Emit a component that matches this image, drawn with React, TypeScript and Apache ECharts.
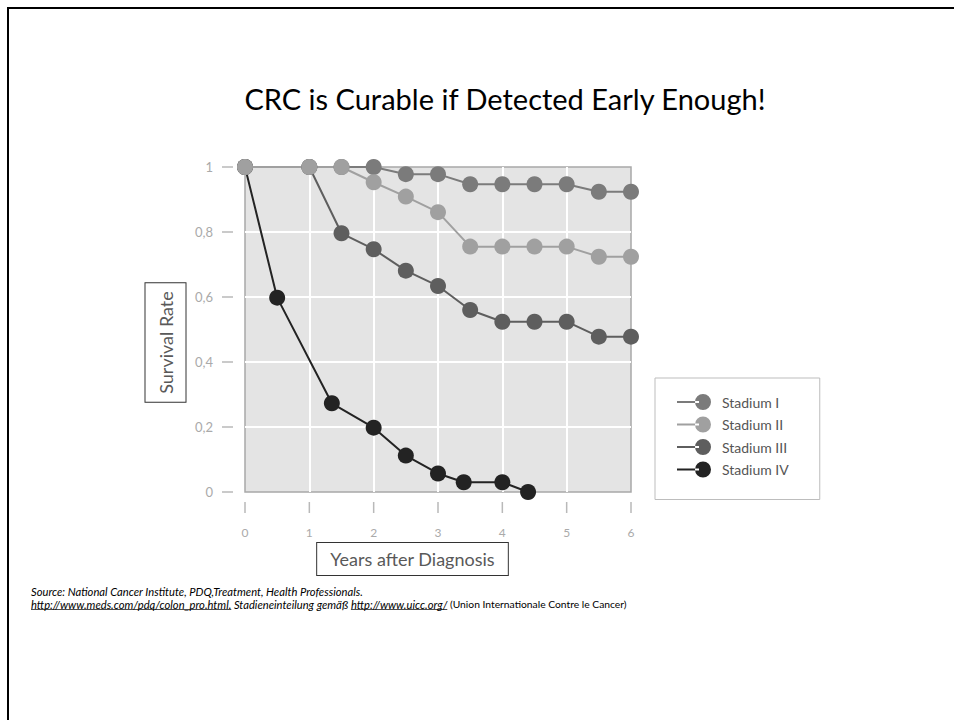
import React, { useEffect, useRef } from 'react';
import * as echarts from 'echarts';

const titleText = 'CRC is Curable if Detected Early Enough!';
const yAxisTitle = 'Survival Rate';
const xAxisTitle = 'Years after Diagnosis';
const sourceLine = 'Source: National Cancer Institute, PDQ,Treatment, Health Professionals.';
const link1 = 'http://www.meds.com/pdq/colon_pro.html.';
const midText = ' Stadieneinteilung gemäß ';
const link2 = 'http://www.uicc.org/';
const tailText = ' (Union Internationale Contre le Cancer)';

const seriesNames = ['Stadium I', 'Stadium II', 'Stadium III', 'Stadium IV'];
const seriesColors = ['#7b7b7b', '#a0a0a0', '#5e5e5e', '#232323'];

const xTicks: number[] = [0, 1, 2, 3, 4, 5, 6];
const yTicks: number[] = [0, 0.2, 0.4, 0.6, 0.8, 1];

const stadiumI: number[][] = [[0, 1], [1, 1], [1.5, 1], [2, 1], [2.5, 0.978], [3, 0.978], [3.5, 0.947], [4, 0.947], [4.5, 0.947], [5, 0.947], [5.5, 0.924], [6, 0.924]];
const stadiumII: number[][] = [[0, 1], [1, 1], [1.5, 1], [2, 0.953], [2.5, 0.909], [3, 0.861], [3.5, 0.755], [4, 0.755], [4.5, 0.755], [5, 0.755], [5.5, 0.724], [6, 0.724]];
const stadiumIII: number[][] = [[0, 1], [1, 1], [1.5, 0.796], [2, 0.747], [2.5, 0.681], [3, 0.634], [3.5, 0.56], [4, 0.524], [4.5, 0.524], [5, 0.524], [5.5, 0.478], [6, 0.478]];
const stadiumIV: number[][] = [[0, 1], [0.5, 0.598], [1.35, 0.273], [2, 0.198], [2.5, 0.112], [3, 0.057], [3.4, 0.03], [4, 0.03], [4.4, 0]];

const seriesData = [stadiumI, stadiumII, stadiumIII, stadiumIV];
const drawOrder = [3, 2, 0, 1];

function measure(text: string, font: string): number {
  const c = document.createElement('canvas');
  const ctx = c.getContext('2d');
  if (!ctx) return text.length * 5;
  ctx.font = font;
  return ctx.measureText(text).width;
}

export default function App() {
  const ref = useRef<HTMLDivElement>(null);
  useEffect(() => {
    if (!ref.current) return;
    const chart = echarts.init(ref.current, null, { renderer: 'svg' });
    const italicFont = 'italic 11.2px Lato';
    const normalFont = '10.3px Lato';
    const fx = 31;
    const fy1 = 591.5;
    const fy2 = 604;
    const w1 = measure(link1, italicFont);
    const wMid = measure(midText, italicFont);
    const w2 = measure(link2, italicFont);
    const l2start = fx + w1 + wMid;

    const tickColor = '#a8a8a8';
    const labelColor = '#aaaaaa';

    const option: any = {
      animation: false,
      grid: {
        left: 245, right: 323, top: 167, bottom: 228,
        show: true, backgroundColor: '#e4e4e4', borderColor: '#a8a8a8', borderWidth: 1.5,
      },
      xAxis: {
        type: 'value', min: 0, max: 6, interval: 1, offset: 10,
        axisLine: { show: false },
        axisTick: { show: false },
        axisLabel: { margin: 24, color: labelColor, fontSize: 12, fontFamily: 'Lato' },
        splitLine: { show: true, showMinLine: false, showMaxLine: false, lineStyle: { color: '#ffffff', width: 2 } },
      },
      yAxis: {
        type: 'value', min: 0, max: 1, interval: 0.2, offset: 12,
        axisLine: { show: false },
        axisTick: { show: false },
        axisLabel: {
          margin: 20, color: labelColor, fontSize: 13, fontFamily: 'Lato',
          formatter: (v: number) => (v === 0 || v === 1 ? String(v) : v.toFixed(1).replace('.', ',')),
        },
        splitLine: { show: true, showMinLine: false, showMaxLine: false, lineStyle: { color: '#ffffff', width: 2 } },
      },
      legend: {
        data: seriesNames,
        orient: 'vertical', left: 655, top: 378,
        backgroundColor: '#ffffff', borderColor: '#bdbdbd', borderWidth: 1,
        padding: [16, 31, 22, 22], itemGap: 6.5,
        itemWidth: 34, itemHeight: 16,
        icon: 'path://M0,7H22V9H0Z M18,8A8,8 0 1,0 34,8A8,8 0 1,0 18,8Z',
        textStyle: { color: '#555555', fontSize: 14, fontFamily: 'Lato', padding: [0, 0, 0, 6] },
      },
      series: [
        {
          name: 'xTickMarks', type: 'scatter', silent: true, clip: false, z: 1,
          data: xTicks.map((v) => [v, 0]),
          symbol: 'rect', symbolSize: [1.5, 11], symbolOffset: [0, 15.5],
          itemStyle: { color: tickColor },
          tooltip: { show: false },
        },
        {
          name: 'yTickMarks', type: 'scatter', silent: true, clip: false, z: 1,
          data: yTicks.map((v) => [0, v]),
          symbol: 'rect', symbolSize: [11, 1.5], symbolOffset: [-17.5, 0],
          itemStyle: { color: tickColor },
          tooltip: { show: false },
        },
        ...drawOrder.map((i) => ({
          name: seriesNames[i],
          type: 'line',
          data: seriesData[i],
          symbol: 'circle',
          symbolSize: 16,
          clip: false,
          z: 3,
          color: seriesColors[i],
          lineStyle: { color: seriesColors[i], width: 2 },
          itemStyle: { color: seriesColors[i] },
        })),
      ],
      graphic: [
        { type: 'rect', shape: { x: 8, y: 8, width: 1000, height: 800 }, style: { fill: 'none', stroke: '#000', lineWidth: 2 }, silent: true },
        { type: 'text', x: 505, y: 98, style: { text: titleText, fill: '#000', font: '29px Lato', textAlign: 'center', textVerticalAlign: 'middle' } },
        {
          type: 'text', x: 165.5, y: 342.5, rotation: Math.PI / 2,
          style: {
            text: yAxisTitle, fill: '#595959', font: '18px Lato', textAlign: 'center', textVerticalAlign: 'middle',
            borderColor: '#333', borderWidth: 1, padding: [11, 8, 11, 8], backgroundColor: '#fff',
          },
        },
        {
          type: 'text', x: 412.5, y: 559,
          style: {
            text: xAxisTitle, fill: '#595959', font: '18px Lato', textAlign: 'center', textVerticalAlign: 'middle',
            borderColor: '#333', borderWidth: 1, padding: [7, 13, 7, 13], backgroundColor: '#fff',
          },
        },
        { type: 'text', x: fx, y: fy1, style: { text: sourceLine, fill: '#000', font: italicFont, textVerticalAlign: 'middle' } },
        {
          type: 'text', x: fx, y: fy2,
          style: {
            text: `{i|${link1}${midText}${link2}}{n|${tailText}}`,
            textVerticalAlign: 'middle',
            rich: {
              i: { font: italicFont, fill: '#000' },
              n: { font: normalFont, fill: '#000' },
            },
          },
        },
        { type: 'line', shape: { x1: fx, y1: fy2 + 5.5, x2: fx + w1, y2: fy2 + 5.5 }, style: { stroke: '#000', lineWidth: 0.7 } },
        { type: 'line', shape: { x1: l2start, y1: fy2 + 5.5, x2: l2start + w2, y2: fy2 + 5.5 }, style: { stroke: '#000', lineWidth: 0.7 } },
      ],
    };
    chart.setOption(option);
    return () => chart.dispose();
  }, []);
  return <div ref={ref} style={{ position: 'absolute', left: 0, top: 0, width: 954, height: 720 }} />;
}
